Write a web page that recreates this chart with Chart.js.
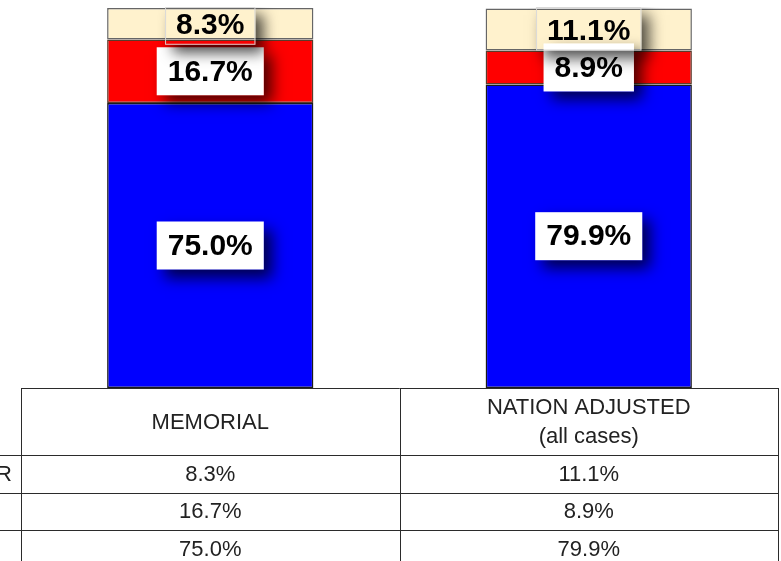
<!DOCTYPE html>
<html>
<head>
<meta charset="utf-8">
<script src="https://cdn.jsdelivr.net/npm/chart.js@4"></script>
<style>
  html, body { margin: 0; padding: 0; background: #ffffff; overflow: hidden; }
  #wrap { width: 781px; height: 561px; }
</style>
</head>
<body>
<div id="wrap"><canvas id="c" width="781" height="561"></canvas></div>
<script>
// ---- data ----
const categories = ['MEMORIAL', 'NATION ADJUSTED (all cases)'];
const categoryLines = [['MEMORIAL'], ['NATION ADJUSTED', '(all cases)']];
const seriesNames = ['OTHER', 'NO', 'YES'];          // table row order (top segment first)
const topValues = [8.3, 11.1];                        // cream segment
const midValues = [16.7, 8.9];                        // red segment
const baseValues = [75.0, 79.9];                      // blue segment
const yTicks = [0, 100];

function fmt(v) { return v.toFixed(1) + '%'; }

const labelFont = 'bold 30px "Liberation Sans", Arial, sans-serif';
const tableFont = '22px "Liberation Sans", Arial, sans-serif';

// draws only the drop shadow of a rectangle, never inside the rectangle itself
function shadowRect(ctx, x, y, w, h, area) {
  ctx.save();
  ctx.beginPath();
  ctx.rect(area.left, area.top - 1, area.right - area.left, area.bottom - area.top + 1);
  ctx.rect(x + w, y, -w, h);
  ctx.clip('evenodd');
  ctx.shadowColor = 'rgba(0,0,0,0.7)';
  ctx.shadowBlur = 14;
  ctx.shadowOffsetX = 10000 + 8;
  ctx.shadowOffsetY = 8;
  ctx.fillStyle = '#000';
  ctx.fillRect(x - 10000, y, w, h);
  ctx.restore();
}

const labelPlugin = {
  id: 'segLabels',
  afterDatasetsDraw(chart) {
    const ctx = chart.ctx;
    const area = chart.chartArea;
    ctx.save();
    ctx.beginPath();
    ctx.rect(area.left, area.top - 1, area.right - area.left, area.bottom - area.top + 1);
    ctx.clip();
    ctx.font = labelFont;
    ctx.textAlign = 'center';
    ctx.textBaseline = 'middle';
    // draw bottom to top: blue, red, cream
    for (let d = 0; d < chart.data.datasets.length; d++) {
      const meta = chart.getDatasetMeta(d);
      const ds = chart.data.datasets[d];
      meta.data.forEach((bar, i) => {
        const v = ds.data[i];
        const txt = fmt(v);
        const cy = (bar.y + bar.base) / 2;
        const tw = ctx.measureText(txt).width;
        const w = tw + 22;
        const x = bar.x - w / 2;
        let top = cy - 24, bottom = cy + 24;
        const isTop = d === chart.data.datasets.length - 1;
        if (isTop) {
          bottom = cy + 21;
          top = Math.max(top, area.top - 1);
        }
        const h = bottom - top;
        shadowRect(ctx, x, top, w, h, area);
        if (isTop) {
          ctx.strokeStyle = 'rgba(215,215,215,0.95)';
          ctx.lineWidth = 1;
          ctx.strokeRect(x + 0.5, top + 0.5, w - 1, h - 1);
        } else {
          ctx.fillStyle = '#ffffff';
          ctx.fillRect(x, top, w, h);
        }
        ctx.fillStyle = '#000000';
        ctx.fillText(txt, bar.x, isTop ? cy + 2 : cy + 1);
      });
    }
    ctx.restore();
  }
};

const tablePlugin = {
  id: 'dataTable',
  afterDraw(chart) {
    const ctx = chart.ctx;
    const area = chart.chartArea;
    const xs = chart.scales.x;
    const p0 = xs.getPixelForValue(0), p1 = xs.getPixelForValue(1);
    const colEdges = [area.left, (p0 + p1) / 2, area.right];
    const headTop = area.bottom;
    const headBottom = headTop + 67;
    const rowH = 37.5;
    const rowLines = [headBottom, headBottom + rowH, headBottom + 2 * rowH, headBottom + 3 * rowH];
    ctx.save();
    ctx.strokeStyle = '#2b2b2b';
    ctx.lineWidth = 1;
    ctx.beginPath();
    ctx.moveTo(area.left, Math.round(headTop) + 0.5);
    ctx.lineTo(area.right, Math.round(headTop) + 0.5);
    rowLines.forEach(y => {
      ctx.moveTo(0, Math.round(y) + 0.5);
      ctx.lineTo(area.right, Math.round(y) + 0.5);
    });
    colEdges.forEach(x => {
      ctx.moveTo(Math.round(x) + 0.5, headTop);
      ctx.lineTo(Math.round(x) + 0.5, 561);
    });
    ctx.stroke();

    ctx.fillStyle = '#222222';
    ctx.font = tableFont;
    ctx.textAlign = 'center';
    ctx.textBaseline = 'middle';
    categoryLines.forEach((lines, i) => {
      const cx = (colEdges[i] + colEdges[i + 1]) / 2;
      const cy = (headTop + headBottom) / 2;
      const lh = 29;
      lines.forEach((ln, k) => {
        ctx.fillText(ln, cx, cy + (k - (lines.length - 1) / 2) * lh + 1);
      });
    });
    const rowsData = [topValues, midValues, baseValues];
    rowsData.forEach((vals, r) => {
      const cy = rowLines[r] + rowH / 2 + 1;
      vals.forEach((v, i) => {
        const cx = (colEdges[i] + colEdges[i + 1]) / 2;
        ctx.fillText(fmt(v), cx, cy);
      });
    });
    // row labels (left-aligned, mostly cut off by the page edge)
    ctx.textAlign = 'left';
    const startX = 12 - ctx.measureText(seriesNames[0]).width;
    seriesNames.forEach((name, r) => {
      ctx.fillText(name, startX, rowLines[r] + rowH / 2 + 1);
    });
    ctx.restore();
  }
};

new Chart(document.getElementById('c'), {
  type: 'bar',
  data: {
    labels: categories,
    datasets: [
      { label: seriesNames[2], data: baseValues, backgroundColor: '#0000FF', borderColor: '#1a1a1a' },
      { label: seriesNames[1], data: midValues, backgroundColor: '#FF0000', borderColor: '#5a3a2a' },
      { label: seriesNames[0], data: topValues, backgroundColor: '#FFF2CD', borderColor: '#666666' }
    ]
  },
  options: {
    responsive: false,
    animation: false,
    devicePixelRatio: 1,
    layout: { padding: { left: 21, right: 3, top: 8, bottom: 173 } },
    datasets: {
      bar: { categoryPercentage: 1, barPercentage: 0.545, borderWidth: 1.5, borderSkipped: false }
    },
    plugins: { legend: { display: false }, tooltip: { enabled: false } },
    scales: {
      x: { stacked: true, display: false, grid: { display: false } },
      y: { stacked: true, display: false, min: yTicks[0], max: yTicks[1], grid: { display: false } }
    }
  },
  plugins: [labelPlugin, tablePlugin]
});
</script>
</body>
</html>
